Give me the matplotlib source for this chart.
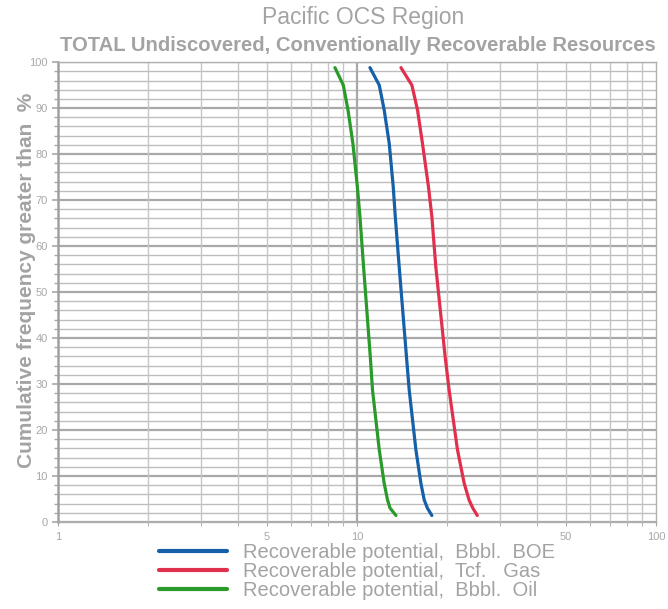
import matplotlib
matplotlib.use('Agg')
import numpy as np
from matplotlib import pyplot as plt
from matplotlib.ticker import FixedLocator, MultipleLocator, NullFormatter, FixedFormatter

# Data (percent exceedance vs. resource volume)
freq = [98.8, 95, 89.6, 82.3, 72.9, 66.4, 55.5, 35.9, 28.7, 15.7, 8.4, 4.8, 3.0, 1.4]
boe = [11.05, 11.87, 12.33, 12.82, 13.22, 13.43, 13.84, 14.64, 14.95, 15.74, 16.36, 16.78, 17.2, 17.8]
gas = [14.03, 15.26, 15.94, 16.56, 17.34, 17.8, 18.35, 19.72, 20.33, 21.68, 22.83, 23.7, 24.4, 25.26]
oil = [8.44, 9.0, 9.33, 9.69, 10.03, 10.23, 10.52, 11.08, 11.27, 11.87, 12.33, 12.65, 12.9, 13.5]

labels = ['Recoverable potential,  Bbbl.  BOE',
          'Recoverable potential,  Tcf.   Gas',
          'Recoverable potential,  Bbbl.  Oil']
xticks = [1, 5, 10, 50, 100]

gray = '#a3a3a3'
plt.rcParams['font.family'] = ['Liberation Sans', 'DejaVu Sans']

fig = plt.figure(figsize=(6.68, 6.09), dpi=100)
ax = fig.add_axes([0.0868, 0.143, 0.8952, 0.755])

ax.set_xscale('log')
ax.set_xlim(1, 100)
ax.set_ylim(0, 100)

# grid
minor_x = [v * d for d in (1, 10) for v in range(2, 10)]
ax.xaxis.set_major_locator(FixedLocator(xticks))
ax.xaxis.set_minor_locator(FixedLocator(minor_x))
ax.xaxis.set_major_formatter(FixedFormatter([str(v) for v in xticks]))
ax.xaxis.set_minor_formatter(NullFormatter())
ax.yaxis.set_major_locator(MultipleLocator(10))
ax.yaxis.set_minor_locator(MultipleLocator(2))

for v in range(0, 101, 2):
    major = v % 10 == 0
    ax.axhline(v, color='#a8a8a8' if major else '#bdbdbd', lw=1.6 if major else 1.0, zorder=0)
for v in minor_x:
    ax.axvline(v, color='#c6c6c6', lw=1.0, zorder=0)
ax.axvline(10, color='#a8a8a8', lw=1.6, zorder=0)

for s in ax.spines.values():
    s.set_color('#b0b0b0')
    s.set_linewidth(1.0)
ax.spines['left'].set_linewidth(1.8)
ax.spines['left'].set_color('#a0a0a0')

ax.tick_params(axis='both', which='both', colors='#a8a8a8', labelcolor='#a8a8a8', labelsize=8)
ax.tick_params(axis='y', which='major', length=4, width=1.2)
ax.tick_params(axis='y', which='minor', length=3, width=1.0)
ax.tick_params(axis='x', which='both', length=3, pad=4)

l1, = ax.plot(boe, freq, color='#1560a8', lw=2.3, solid_capstyle='round', solid_joinstyle='round')
l2, = ax.plot(gas, freq, color='#e0304e', lw=2.3, solid_capstyle='round', solid_joinstyle='round')
l3, = ax.plot(oil, freq, color='#2a9a2a', lw=2.3, solid_capstyle='round', solid_joinstyle='round')

ax.set_ylabel('Cumulative frequency greater than  %', fontsize=15, fontweight='bold', color=gray)
ax.yaxis.set_label_coords(-0.036, 0.526)

fig.text(0.543, 0.972, 'Pacific OCS Region', ha='center', va='center', fontsize=16.5, color=gray)
fig.text(0.535, 0.925, 'TOTAL Undiscovered, Conventionally Recoverable Resources', ha='center',
         va='center', fontsize=14.6, fontweight='bold', color=gray)

leg = fig.legend([l1, l2, l3], labels, loc='upper left', bbox_to_anchor=(0.238, 0.108),
                 frameon=False, fontsize=14.5, handlelength=3.4, handletextpad=0.75,
                 labelspacing=0.0, borderaxespad=0, borderpad=0)
for t in leg.get_texts():
    t.set_color(gray)
for h in leg.legend_handles:
    h.set_linewidth(3)

plt.savefig('out.png', dpi=100)
